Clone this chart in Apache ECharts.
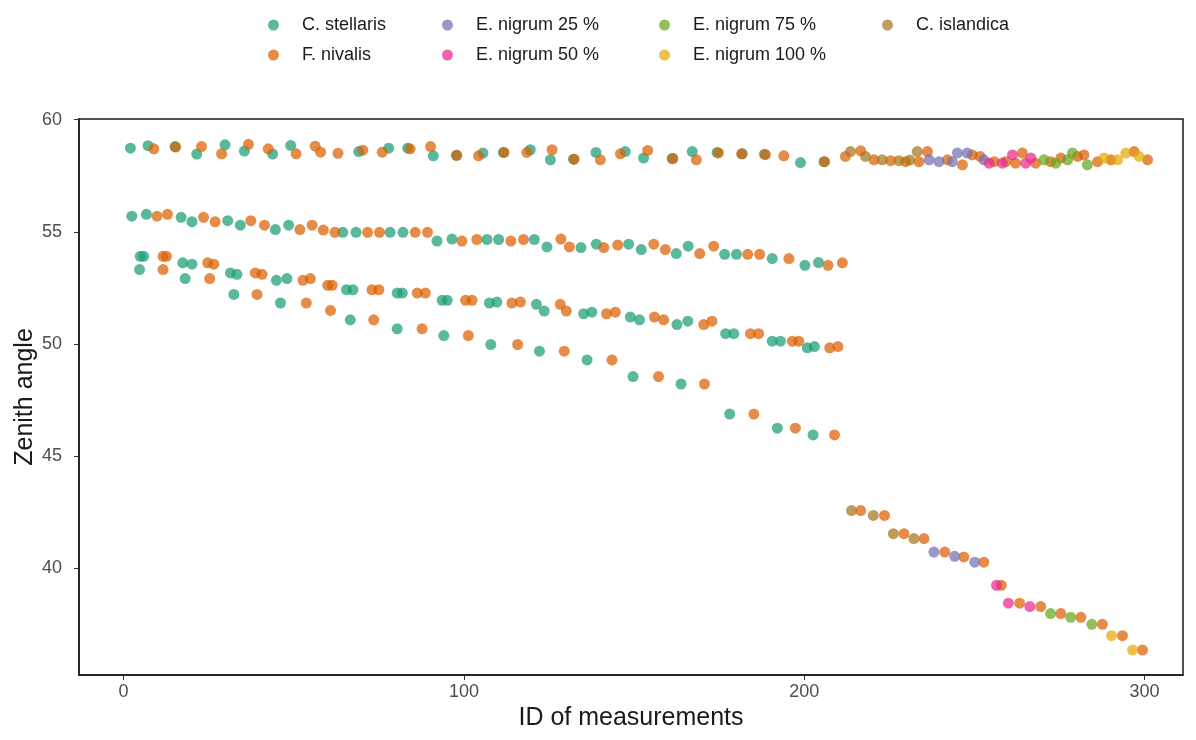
<!DOCTYPE html>
<html>
<head>
<meta charset="utf-8">
<script src="https://cdn.jsdelivr.net/npm/echarts@6/dist/echarts.min.js"></script>
<style>
html,body{margin:0;padding:0;background:#fff;}
#chart{width:1196px;height:740px;}
</style>
</head>
<body>
<div id="chart"></div>
<script>
// ---- Data: [ID of measurement, zenith angle] ----
const seriesNames = ['C. stellaris', 'F. nivalis', 'E. nigrum 25 %', 'E. nigrum 50 %', 'E. nigrum 75 %', 'E. nigrum 100 %', 'C. islandica'];
const seriesColors = ['#1B9E77', '#D95F02', '#7570B3', '#E7298A', '#66A61E', '#E6AB02', '#A6761D'];

const stellarisTop = [[2.0,58.73],[7.2,58.84],[15.1,58.8],[21.5,58.47],[29.8,58.88],[35.5,58.6],[43.8,58.47],[49.1,58.85],[69.1,58.58],[77.9,58.73],[83.5,58.73],[91,58.39],[97.8,58.41],[105.6,58.51],[111.6,58.54],[119.5,58.66],[125.4,58.21],[132.2,58.24],[138.8,58.54],[147.4,58.58],[152.8,58.29],[161.2,58.27],[167.1,58.58],[174.4,58.54],[181.8,58.48],[188.3,58.46],[198.9,58.09],[205.8,58.13]];
const stellarisRow2 = [[2.4,55.7],[6.7,55.78],[16.9,55.65],[20.1,55.45],[30.6,55.5],[34.3,55.3],[44.6,55.1],[48.5,55.3],[64.4,54.98],[68.3,54.98],[78.3,54.98],[82.1,54.98],[92.1,54.59],[96.5,54.68],[106.8,54.66],[110.2,54.66],[120.7,54.66],[124.4,54.33],[134.4,54.3],[138.9,54.45],[148.4,54.45],[152.1,54.21],[162.4,54.03],[165.9,54.36],[176.6,54.0],[180.1,54.0],[190.6,53.81],[200.2,53.51],[204.2,53.63]];
const stellarisRow3 = [[4.9,53.91],[5.9,53.91],[17.4,53.62],[20.1,53.56],[31.4,53.17],[33.3,53.11],[44.9,52.84],[48,52.92],[65.5,52.42],[67.4,52.42],[80.4,52.27],[81.9,52.27],[93.6,51.95],[95.1,51.95],[107.5,51.83],[109.7,51.87],[121.3,51.77],[123.6,51.47],[135.2,51.35],[137.6,51.42],[148.9,51.2],[151.6,51.08],[162.6,50.87],[165.8,51.02],[176.9,50.46],[179.3,50.46],[190.6,50.13],[193,50.13],[200.9,49.83],[203,49.89]];
const stellarisRow4 = [[4.7,53.32],[18.1,52.92],[32.4,52.21],[46.1,51.83],[66.6,51.08],[80.4,50.68],[94.1,50.38],[107.9,49.98],[122.2,49.68],[136.2,49.29],[149.7,48.55],[163.8,48.22],[178.1,46.88],[192.1,46.25],[202.6,45.95]];

const nivalisTop = [[8.9,58.7],[15.3,58.78],[22.9,58.8],[28.8,58.48],[36.7,58.9],[42.5,58.7],[50.7,58.48],[56.3,58.82],[57.9,58.55],[63,58.5],[70.3,58.64],[76,58.55],[84.2,58.7],[90.2,58.8],[97.9,58.41],[104.3,58.39],[111.8,58.54],[118.5,58.54],[125.9,58.66],[132.4,58.24],[140.1,58.21],[146,58.48],[154,58.63],[161.4,58.27],[168.3,58.21],[174.8,58.52],[181.6,58.48],[188.6,58.44],[194,58.39],[206,58.13],
  [212.1,58.36],[216.6,58.61],[220.5,58.21],[225.4,58.17],[229.8,58.13],[233.7,58.13],[236.2,58.58],[242.1,58.21],[246.5,57.99],[249.4,58.43],[251.7,58.36],[255.8,58.13],[259.2,58.13],[262.1,58.06],[264.1,58.51],[268,58.06],[272.4,58.13],[275.4,58.29],[280.3,58.36],[282.2,58.43],[286.2,58.13],[290.1,58.21],[296.9,58.58],[300.9,58.21]];
const nivalisRow2 = [[9.8,55.7],[12.9,55.78],[23.5,55.65],[26.9,55.45],[37.4,55.5],[41.4,55.3],[51.8,55.1],[55.4,55.3],[58.7,55.08],[62.1,54.98],[71.7,54.98],[75.2,54.98],[85.7,54.98],[89.3,54.98],[99.4,54.59],[103.8,54.66],[113.8,54.59],[117.5,54.66],[128.5,54.68],[131,54.33],[141.1,54.3],[145.2,54.41],[155.8,54.45],[159.2,54.21],[169.3,54.03],[173.4,54.36],[183.4,54.0],[186.9,54.0],[195.5,53.81],[207,53.51],[211.2,53.62]];
const nivalisRow3 = [[11.6,53.91],[12.6,53.91],[24.7,53.62],[26.5,53.56],[38.7,53.17],[40.7,53.11],[52.7,52.84],[54.9,52.92],[60,52.62],[61.3,52.62],[73,52.42],[75,52.42],[86.3,52.27],[88.7,52.27],[100.5,51.95],[102.4,51.95],[114.1,51.83],[116.6,51.87],[128.3,51.77],[130.1,51.47],[141.9,51.35],[144.5,51.42],[156,51.2],[158.7,51.08],[170.5,50.87],[172.9,51.02],[184.2,50.46],[186.6,50.46],[196.5,50.13],[198.4,50.13],[207.5,49.83],[209.9,49.89]];
const nivalisRow4 = [[11.6,53.32],[25.3,52.92],[39.2,52.21],[53.7,51.83],[60.8,51.5],[73.5,51.08],[87.7,50.68],[101.3,50.38],[115.8,49.98],[129.5,49.68],[143.5,49.29],[157.2,48.55],[170.7,48.22],[185.2,46.88],[197.4,46.25],[208.9,45.95]];
const nivalisLow = [[216.6,42.58],[223.6,42.36],[229.3,41.55],[235.2,41.33],[241.3,40.73],[246.9,40.51],[252.8,40.28],[257.9,39.25],[263.3,38.45],[269.5,38.3],[275.4,37.99],[281.3,37.82],[287.6,37.51],[293.5,37.0],[299.4,36.36]];

const nigrum25 = [[236.7,58.21],[239.6,58.13],[243.5,58.13],[245,58.51],[247.9,58.51],[252.8,58.21],[238.1,40.73],[244.2,40.54],[250.1,40.28]];
const nigrum50 = [[254.3,58.06],[258.2,58.06],[261.2,58.43],[265.1,58.06],[266.6,58.29],[256.5,39.25],[260,38.45],[266.3,38.3]];
const nigrum75 = [[270.5,58.21],[273.9,58.06],[277.4,58.21],[278.8,58.51],[283.2,57.99],[272.4,37.99],[278.3,37.82],[284.5,37.51]];
const nigrum100 = [[288.1,58.29],[292.1,58.21],[294.5,58.51],[298.4,58.36],[290.3,37.0],[296.5,36.36]];
const islandica = [[213.6,58.58],[218,58.36],[222.9,58.21],[227.8,58.17],[231,58.2],[233.2,58.58],[213.9,42.58],[220.3,42.36],[226.2,41.55],[232.2,41.33]];

const xTicks = [0, 100, 200, 300];
const yTicks = [40, 45, 50, 55, 60];

const seriesData = [
  stellarisTop.concat(stellarisRow2, stellarisRow3, stellarisRow4),
  nivalisTop.concat(nivalisRow2, nivalisRow3, nivalisRow4, nivalisLow),
  nigrum25, nigrum50, nigrum75, nigrum100, islandica
];

// ---- Chart ----
const chart = echarts.init(document.getElementById('chart'), null, {renderer: 'canvas'});
const FONT = 'Liberation Sans, Arial, sans-serif';
const legendCols = [
  {left: 263, names: ['C. stellaris', 'F. nivalis']},
  {left: 437, names: ['E. nigrum 25 %', 'E. nigrum 50 %']},
  {left: 654, names: ['E. nigrum 75 %', 'E. nigrum 100 %']},
  {left: 877, names: ['C. islandica']}
];
const option = {
  backgroundColor: '#ffffff',
  animation: false,
  color: seriesColors,
  legend: legendCols.map(c => ({
    orient: 'vertical', left: c.left, top: 10, data: c.names,
    icon: 'circle', itemWidth: 11, itemHeight: 11, itemGap: 10,
    textStyle: {fontFamily: FONT, fontSize: 18, color: '#1a1a1a', padding: [0,0,0,18], lineHeight: 20},
    selectedMode: false
  })),
  grid: {left: 79, right: 13, top: 119, bottom: 65, show: true, borderColor: '#1a1a1a', borderWidth: 1.5, containLabel: false},
  xAxis: {
    type: 'value', min: -13.1, max: 311.3,
    name: 'ID of measurements', nameLocation: 'middle', nameGap: 31, nameMoveOverlap: false,
    nameTextStyle: {fontFamily: FONT, fontSize: 25, color: '#1a1a1a'},
    splitLine: {show: false},
    axisLine: {show: true, onZero: false, lineStyle: {color: '#1a1a1a', width: 1.5}},
    axisTick: {show: true, length: 5, customValues: xTicks, lineStyle: {color: '#333'}},
    axisLabel: {customValues: xTicks, margin: 8, fontFamily: FONT, fontSize: 18, color: '#4D4D4D'}
  },
  yAxis: {
    type: 'value', min: 35.25, max: 60.03,
    name: 'Zenith angle', nameLocation: 'middle', nameGap: 41, nameMoveOverlap: false,
    nameTextStyle: {fontFamily: FONT, fontSize: 25, color: '#1a1a1a'},
    splitLine: {show: false},
    axisLine: {show: true, onZero: false, lineStyle: {color: '#1a1a1a', width: 1.5}},
    axisTick: {show: true, length: 5, customValues: yTicks, lineStyle: {color: '#333'}},
    axisLabel: {customValues: yTicks, margin: 17, fontFamily: FONT, fontSize: 18, color: '#4D4D4D'}
  },
  series: seriesNames.map((n, i) => ({
    name: n, type: 'scatter', data: seriesData[i], symbol: 'circle', symbolSize: 11,
    itemStyle: {color: seriesColors[i], opacity: 0.72}
  }))
};
chart.setOption(option);
</script>
</body>
</html>
